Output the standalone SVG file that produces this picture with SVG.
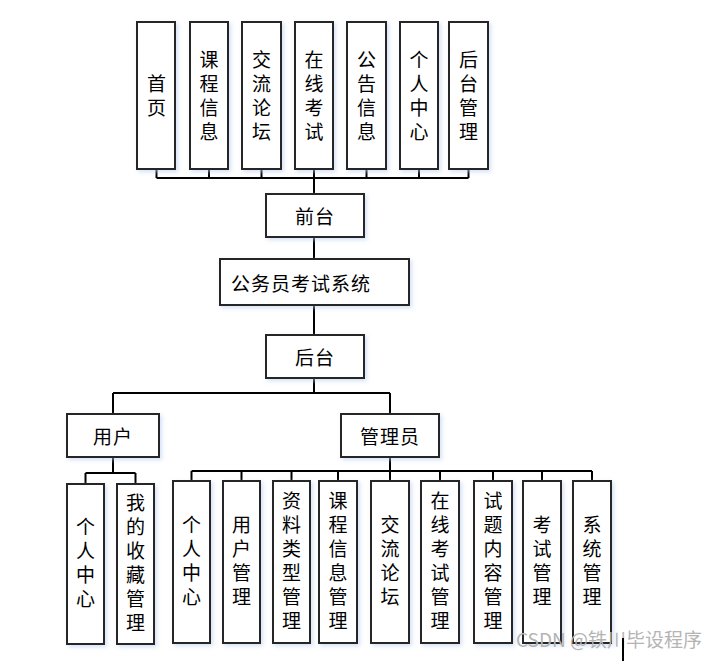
<svg xmlns="http://www.w3.org/2000/svg" width="722" height="661" viewBox="0 0 722 661">
<defs>
<filter id="sh" x="-20%" y="-20%" width="140%" height="140%">
<feDropShadow dx="2" dy="2" stdDeviation="2" flood-color="#b9cdef" flood-opacity="0.6"/>
</filter>
</defs>
<style>
.b{fill:#ffffff;stroke:#262626;stroke-width:2;filter:url(#sh)}
.t{font-family:"Noto Sans CJK SC","Microsoft YaHei",sans-serif;font-size:19px;fill:#000;text-anchor:middle;dominant-baseline:central}
.v{font-family:"Noto Sans CJK SC","Microsoft YaHei",sans-serif;font-size:19px;fill:#000;text-anchor:middle;writing-mode:vertical-rl;letter-spacing:5px}
.c{fill:none;stroke:#000;stroke-width:2}
.wm{font-family:"Noto Sans CJK SC",sans-serif;font-size:19px;fill:#b4b4b4}
</style>
<rect width="722" height="661" fill="#ffffff"/>
<g id="connectors">
<path class="c" d="M156.5,169V178M209,169V178M261.5,169V178M314,169V194M366.5,169V178M419,169V178M468.5,169V178M156.5,178H468.5"/>
<path class="c" d="M314,237V259M314,305V335M314,378V393M113,393H390M113,393V414M390,393V414"/>
<path class="c" d="M113,457V473M85.5,473H135.5M85.5,473V484M135.5,473V484"/>
<path class="c" d="M390,457V471M191.5,471H592M191.5,471V481M241.5,471V481M291.5,471V481M338,471V481M390,471V481M440,471V481M493,471V481M542,471V481M592,471V481"/>
</g>
<g id="n_shouye"><rect class="b" x="137" y="22" width="38" height="147"/><text class="v" x="156.5" y="98">首页</text></g>
<g id="n_kecheng"><rect class="b" x="190" y="22" width="38" height="147"/><text class="v" x="209" y="98">课程信息</text></g>
<g id="n_jiaoliu"><rect class="b" x="242" y="22" width="39" height="147"/><text class="v" x="261.5" y="98">交流论坛</text></g>
<g id="n_zaixian"><rect class="b" x="295" y="22" width="38" height="147"/><text class="v" x="314" y="98">在线考试</text></g>
<g id="n_gonggao"><rect class="b" x="347" y="22" width="39" height="147"/><text class="v" x="366.5" y="98">公告信息</text></g>
<g id="n_geren_top"><rect class="b" x="400" y="22" width="38" height="147"/><text class="v" x="419" y="98">个人中心</text></g>
<g id="n_houtaiguanli"><rect class="b" x="449" y="22" width="39" height="147"/><text class="v" x="468.5" y="98">后台管理</text></g>
<g id="n_qiantai"><rect class="b" x="266" y="194" width="98" height="43"/><text class="t" x="315" y="215.5" letter-spacing="1">前台</text></g>
<g id="n_system"><rect class="b" x="220" y="259" width="189" height="46"/><text class="t" x="231" y="282" style="text-anchor:start" letter-spacing="1">公务员考试系统</text></g>
<g id="n_houtai"><rect class="b" x="266" y="335" width="98" height="43"/><text class="t" x="315" y="356.5" letter-spacing="1">后台</text></g>
<g id="n_user"><rect class="b" x="67" y="414" width="92" height="43"/><text class="t" x="113" y="435.5" letter-spacing="1">用户</text></g>
<g id="n_admin"><rect class="b" x="341" y="414" width="98" height="43"/><text class="t" x="390" y="435.5" letter-spacing="1">管理员</text></g>
<g id="u_geren"><rect class="b" x="67" y="484" width="37" height="160"/><text class="v" x="85.5" y="565.5">个人中心</text></g>
<g id="u_shoucang"><rect class="b" x="117" y="484" width="37" height="160"/><text class="v" x="135.5" y="565.5">我的收藏管理</text></g>
<g id="a_geren"><rect class="b" x="173" y="481" width="37" height="162"/><text class="v" x="191.5" y="563.5">个人中心</text></g>
<g id="a_yonghu"><rect class="b" x="223" y="481" width="37" height="162"/><text class="v" x="241.5" y="563.5">用户管理</text></g>
<g id="a_ziliao"><rect class="b" x="273" y="481" width="37" height="162"/><text class="v" x="291.5" y="563.5">资料类型管理</text></g>
<g id="a_kecheng"><rect class="b" x="319" y="481" width="38" height="162"/><text class="v" x="338" y="563.5">课程信息管理</text></g>
<g id="a_jiaoliu"><rect class="b" x="371" y="481" width="38" height="162"/><text class="v" x="390" y="563.5">交流论坛</text></g>
<g id="a_zaixian"><rect class="b" x="421" y="481" width="38" height="162"/><text class="v" x="440" y="563.5">在线考试管理</text></g>
<g id="a_shiti"><rect class="b" x="474" y="481" width="38" height="162"/><text class="v" x="493" y="563.5">试题内容管理</text></g>
<g id="a_kaoshi"><rect class="b" x="523" y="481" width="38" height="162"/><text class="v" x="542" y="563.5">考试管理</text></g>
<g id="a_xitong"><rect class="b" x="573" y="481" width="38" height="162"/><text class="v" x="592" y="563.5">系统管理</text></g>
<text class="wm" x="516" y="647">CSDN @铁川毕设程序</text>
<line x1="623" y1="638" x2="623" y2="661" stroke="#000" stroke-width="2"/>
</svg>
